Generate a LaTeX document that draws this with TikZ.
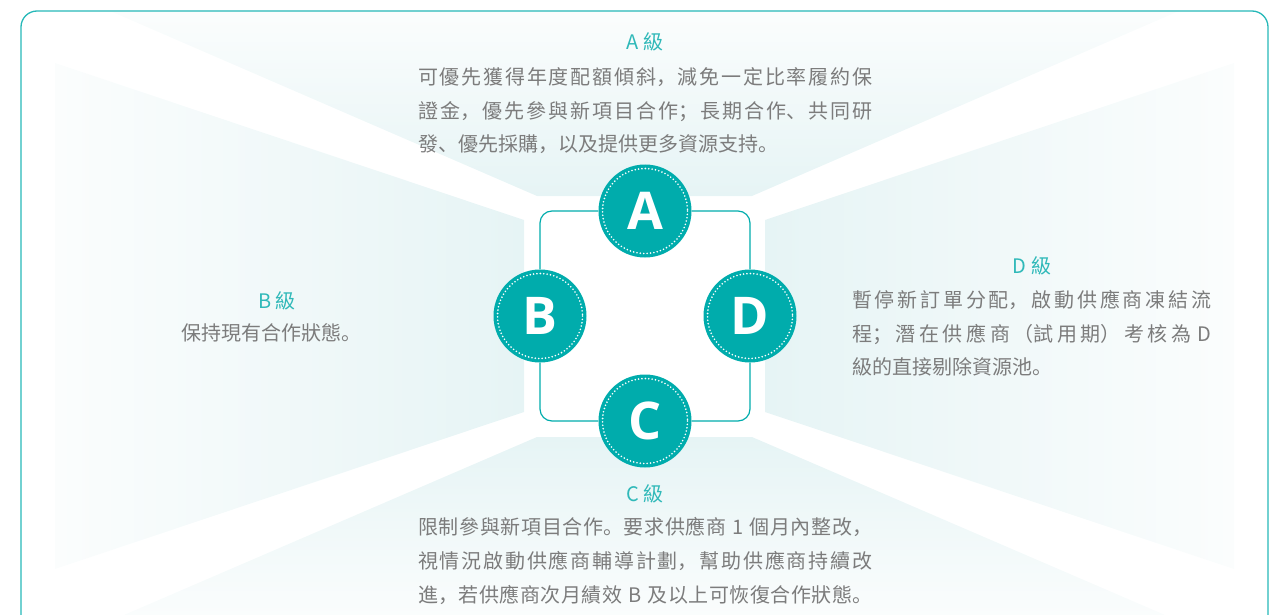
\documentclass[tikz,border=0pt]{standalone}
\usepackage{fontspec}
\newfontfamily\cjkfont{Noto Sans CJK SC}
\newfontfamily\letterfont{Open Sans}
\XeTeXlinebreaklocale "zh"
\XeTeXlinebreakskip=0pt plus 1fil
\hbadness=10000
\definecolor{gradeteal}{HTML}{00ACAC}
\definecolor{headteal}{HTML}{30B9B9}
\definecolor{bodygray}{HTML}{7C7C7C}
\definecolor{paneltint}{HTML}{E6F4F5}
\definecolor{panelfade}{HTML}{FBFDFD}
\newcommand{\fullline}[2]{\parbox[b]{#1}{\parfillskip=0pt\relax #2}}
\tikzset{
  gradedisc/.style={circle, fill=gradeteal, minimum size=93pt, inner sep=0pt,
    text=white, font=\letterfont\bfseries\fontsize{52}{52}\selectfont},
  gradehead/.style={anchor=base, text=headteal, inner sep=0pt,
    font=\cjkfont\fontsize{20}{34}\selectfont},
  gradeline/.style={anchor=base west, text=bodygray, inner sep=0pt,
    font=\cjkfont\fontsize{20}{34}\selectfont},
  dotring/.style={white, line width=1.8pt, line cap=round, dash pattern=on 0pt off 3.4pt},
  frameline/.style={gradeteal, line width=1.2pt, rounded corners=12pt}
}
\begin{document}
\begin{tikzpicture}[x=1pt,y=-1pt]
  \useasboundingbox (0,0) rectangle (1283,615);
  % Draw the four light panels
  \shade[top color=panelfade, bottom color=paneltint] (110,11) -- (1179,11) -- (752,196) -- (537,196) -- cycle;
  \shade[left color=panelfade, right color=paneltint] (55,63) -- (524,220) -- (524,412) -- (55,569) -- cycle;
  \shade[left color=paneltint, right color=panelfade] (765,220) -- (1234,63) -- (1234,569) -- (765,412) -- cycle;
  \shade[top color=paneltint, bottom color=panelfade] (537,437) -- (752,437) -- (1179,621) -- (110,621) -- cycle;
  % Draw outer box
  \draw[gradeteal!85, line width=1.3pt, rounded corners=16pt] (21,11) rectangle (1268,660);
  % Draw grade discs
  \node[gradedisc] (A) at (645,211) {A};
  \node[gradedisc] (B) at (540,316) {B};
  \node[gradedisc] (C) at (645,421) {C};
  \node[gradedisc] (D) at (750,316) {D};
  % Draw square between the discs
  \draw[frameline] (A.east) -| (D.north);
  \draw[frameline] (D.south) |- (C.east);
  \draw[frameline] (C.west) -| (B.south);
  \draw[frameline] (B.north) |- (A.west);
  % Draw dotted rings
  \foreach \g in {A,B,C,D}
    \draw[dotring] (\g.center) circle (42.5);
  % A grade
  \node[gradehead] (ahead) at (645,50) {A 級};
  \node[gradeline] (a1) at (418,85) {\fullline{454pt}{可優先獲得年度配額傾斜，減免一定比率履約保}};
  \node[gradeline] (a2) at (418,119) {\fullline{454pt}{證金，優先參與新項目合作；長期合作、共同研}};
  \node[gradeline] (a3) at (418,152) {發、優先採購，以及提供更多資源支持。};
  % B grade
  \node[gradehead] (bhead) at (277,308) {B 級};
  \node[gradehead, text=bodygray] (b1) at (271,340) {保持現有合作狀態。};
  % D grade
  \node[gradehead] (dhead) at (1032,273) {D 級};
  \node[gradeline] (d1) at (852,307) {\fullline{359pt}{暫停新訂單分配，啟動供應商凍結流}};
  \node[gradeline] (d2) at (852,341) {\fullline{359pt}{程；潛在供應商（試用期）考核為\hspace{6pt}D}};
  \node[gradeline] (d3) at (852,374) {級的直接剔除資源池。};
  % C grade
  \node[gradehead] (chead) at (645,501) {C 級};
  \node[gradeline] (c1) at (418,534) {\fullline{454pt}{限制參與新項目合作。要求供應商\hspace{6pt}1\hspace{6pt}個月內整改，}};
  \node[gradeline] (c2) at (418,568) {\fullline{454pt}{視情況啟動供應商輔導計劃，幫助供應商持續改}};
  \node[gradeline] (c3) at (418,602) {\fullline{454pt}{進，若供應商次月績效\hspace{6pt}B\hspace{6pt}及以上可恢復合作狀態。}};
\end{tikzpicture}
\end{document}
